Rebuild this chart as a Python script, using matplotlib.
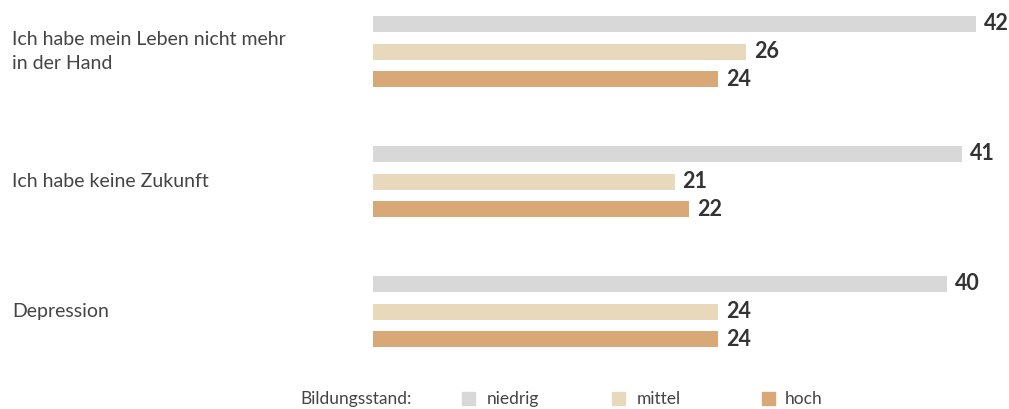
import numpy as np
import matplotlib.pyplot as plt
from matplotlib.patches import Rectangle

plt.rcParams['font.family'] = ['Lato', 'DejaVu Sans']

# Data
categories = ["Ich habe mein Leben nicht mehr\nin der Hand",
              "Ich habe keine Zukunft",
              "Depression"]
levels = ["niedrig", "mittel", "hoch"]
niedrig = [42, 41, 40]
mittel = [26, 21, 24]
hoch = [24, 22, 24]
colors = ["#d8d8d8", "#e8d9bd", "#d8a876"]
text_col = "#444444"

W, H = 1009, 409
fig = plt.figure(figsize=(W / 100, H / 100), dpi=100)

# axes spanning from bar start to right edge, y in pixel units (top = 0)
x0 = 373
px_per_unit = 14.36
ax = fig.add_axes([x0 / W, 0, 1 - x0 / W, 1])
ax.set_xlim(0, (W - x0) / px_per_unit)
ax.set_ylim(H, 0)
ax.axis("off")

group_gap = 130
bar_gap = 27.7
first = 24
bar_h = 16

series = [niedrig, mittel, hoch]
for g, cat in enumerate(categories):
    for k, vals in enumerate(series):
        y = first + g * group_gap + k * bar_gap
        ax.barh(y, vals[g], height=bar_h, color=colors[k], edgecolor="none")
        ax.text(vals[g] + 8 / px_per_unit, y, str(vals[g]), va="center",
                ha="left", fontsize=15.5, fontweight="bold", color="#333333")
    yc = first + g * group_gap + bar_gap
    fig.text(12 / W, 1 - yc / H, cat, va="center", ha="left",
             fontsize=14, color=text_col, linespacing=1.5)

# legend row
ly = 1 - 399 / H
fig.text(300 / W, ly, "Bildungsstand:", va="center", ha="left",
         fontsize=12.5, color=text_col)
for xs, xt, lab, c in zip([462, 612, 762], [487, 637, 785], levels, colors):
    fig.patches.append(Rectangle((xs / W, (H - 405) / H), 13 / W, 13 / H,
                                 transform=fig.transFigure, color=c))
    fig.text(xt / W, ly, lab, va="center", ha="left",
             fontsize=12.5, color=text_col)

fig.savefig("out.png", dpi=100)
